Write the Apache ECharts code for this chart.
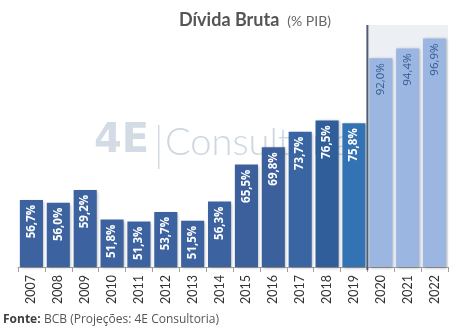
<!DOCTYPE html>
<html>
<head>
<meta charset="utf-8">
<script src="https://cdn.jsdelivr.net/npm/echarts@6/dist/echarts.min.js"></script>
<style>
  html, body { margin: 0; padding: 0; background: #fff; }
  #chart { width: 455px; height: 332px; }
</style>
</head>
<body>
<div id="chart"></div>
<script>
// Gross public debt, % of GDP (2020 onwards are projections)
const years = ['2007','2008','2009','2010','2011','2012','2013','2014','2015','2016','2017','2018','2019','2020','2021','2022'];
const debtPct = [56.7, 56.0, 59.2, 51.8, 51.3, 53.7, 51.5, 56.3, 65.5, 69.8, 73.7, 76.5, 75.8, 92.0, 94.4, 96.9];
const barColors = ['#3d62a0','#3d62a0','#3d62a0','#3d62a0','#3d62a0','#3d62a0','#3d62a0','#3d62a0','#3c609c','#3c609c','#3a65a3','#2f5e9b','#3473b3','#9cb6e2','#9cb6e2','#9cb6e2'];
const firstProjection = '2020';
const lastActual = '2019';
const yMin = 40, yMax = 100;

const fontFam = 'Lato, "Open Sans", sans-serif';
const wideFam = '"Open Sans", Lato, sans-serif';
const projIdx = years.indexOf(firstProjection);

const chart = echarts.init(document.getElementById('chart'), null, { renderer: 'canvas' });

const seriesData = debtPct.map((v, i) => {
  const projected = i >= projIdx;
  return {
    value: v,
    itemStyle: { color: barColors[i] },
    label: projected
      ? { color: '#34598f', fontWeight: 500 }
      : { color: '#ffffff', fontWeight: 'bold' }
  };
});

const fmt = v => v.toFixed(1).replace('.', ',') + '%';

chart.setOption({
  animation: false,
  title: {
    text: '{a|Dívida Bruta} {b|(% PIB)}',
    left: 174,
    top: 6,
    textStyle: {
      rich: {
        a: { fontFamily: fontFam, fontSize: 18, fontWeight: 'bold', color: '#555555' },
        b: { fontFamily: fontFam, fontSize: 14, fontWeight: 'normal', color: '#666666', padding: [3, 0, 0, 3] }
      }
    }
  },
  grid: { left: 18, right: 7, top: 26, bottom: 65 },
  xAxis: {
    type: 'category',
    data: years,
    axisLine: { lineStyle: { color: '#a0a0a0', width: 1 } },
    axisTick: { show: true, length: 5, lineStyle: { color: '#a0a0a0' } },
    axisLabel: {
      rotate: 90,
      margin: 8,
      color: '#333333',
      fontFamily: fontFam,
      fontSize: 12.5
    }
  },
  yAxis: {
    type: 'value',
    min: yMin,
    max: yMax,
    show: false,
    splitLine: { show: false }
  },
  series: [{
    type: 'bar',
    data: seriesData,
    barCategoryGap: '14%',
    z: 3,
    itemStyle: {
      shadowBlur: 3,
      shadowColor: 'rgba(0,0,0,0.3)',
      shadowOffsetX: 1,
      shadowOffsetY: 1
    },
    label: {
      show: true,
      position: 'insideTop',
      rotate: 90,
      align: 'right',
      verticalAlign: 'middle',
      distance: 5,
      fontFamily: wideFam,
      fontSize: 11.5,
      formatter: p => fmt(p.value)
    }
  }]
});

// Shaded projection zone and divider, placed from the axis scales
const xLast = chart.convertToPixel({ xAxisIndex: 0 }, lastActual);
const xFirst = chart.convertToPixel({ xAxisIndex: 0 }, firstProjection);
const xDiv = (xLast + xFirst) / 2;
const yTop = chart.convertToPixel({ yAxisIndex: 0 }, yMax);
const yBase = chart.convertToPixel({ yAxisIndex: 0 }, yMin);
const gridRight = 455 - 7;

chart.setOption({
  graphic: [
    {
      type: 'rect', z: -10, silent: true,
      shape: { x: xDiv, y: yTop - 1, width: gridRight - xDiv, height: yBase - yTop + 1 },
      style: { fill: '#eceff3' }
    },
    {
      type: 'line', z: 10, silent: true,
      shape: { x1: xDiv, y1: yTop - 1, x2: xDiv, y2: yBase + 3 },
      style: { stroke: '#4d5c70', lineWidth: 2 }
    },
    // 4E Consultoria watermark
    {
      type: 'text', z: -5, silent: true, left: 94, top: 122,
      style: { text: '4E', fontFamily: '"DejaVu Sans", sans-serif', fontWeight: 'bold', fontSize: 40, fill: '#d3dce5' }
    },
    {
      type: 'rect', z: -5, silent: true,
      shape: { x: 158, y: 125, width: 1.5, height: 44 },
      style: { fill: '#d3dce5' }
    },
    {
      type: 'text', z: -5, silent: true, left: 165, top: 124,
      style: { text: 'Consultoria', fontFamily: fontFam, fontWeight: 300, fontSize: 38, fill: '#cdd7e1' }
    },
    // Source note
    {
      type: 'text', left: 3, top: 314, silent: true,
      style: {
        text: '{a|Fonte:} {b|BCB (Projeções: 4E Consultoria)}',
        rich: {
          a: { fontFamily: wideFam, fontSize: 12, fontWeight: 'bold', fill: '#3e3e3e' },
          b: { fontFamily: wideFam, fontSize: 12, fill: '#555555' }
        }
      }
    }
  ]
});
</script>
</body>
</html>
